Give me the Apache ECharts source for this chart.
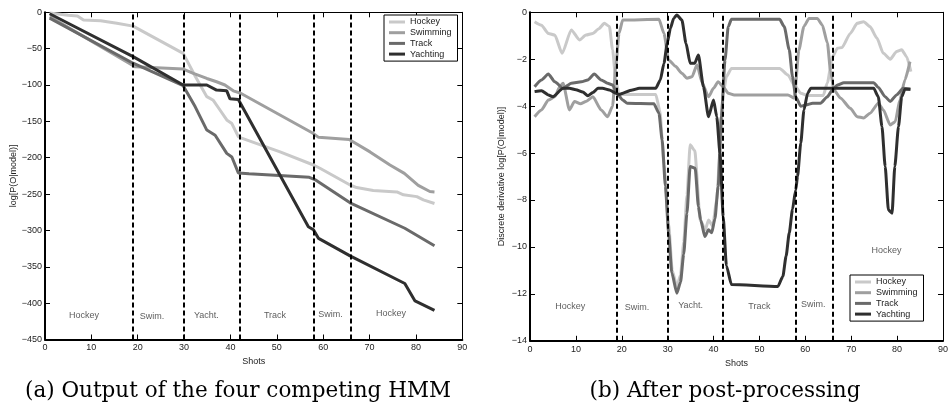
<!DOCTYPE html>
<html>
<head>
<meta charset="utf-8">
<script src="https://cdn.jsdelivr.net/npm/echarts@6/dist/echarts.min.js"></script>
<style>
  html, body { margin: 0; padding: 0; background: #fff; }
  #chart { width: 951px; height: 402px; }
</style>
</head>
<body>
<div id="chart"></div>
<script>
// (a) log-likelihood of the four HMMs
var hockeyAx = [1, 5, 7, 8.3, 12, 15.5, 19, 29.8, 32.4, 34.9, 36.3, 37.7, 39.2, 40.3, 41.7, 42.4, 50.7, 57.9, 59.3, 65.8, 67.2, 70.8, 75.9, 77.3, 80.2, 81.6, 84]
var hockeyAy = [-1, -4, -5, -10.5, -11.5, -15, -19, -56.5, -88, -116, -121, -134, -148, -153, -171, -173, -192, -210, -214.5, -237.5, -241, -245, -247, -251, -253.5, -258, -263]
var swimAx = [1, 19.5, 29.8, 32, 34.9, 37, 38.8, 40.6, 42.1, 57.7, 59, 65.6, 70.1, 74.4, 77.5, 80.5, 83, 84]
var swimAy = [-6, -75, -78, -84, -91, -95.5, -100, -108, -111, -166, -172, -175, -192, -210, -221.5, -238, -246.5, -247]
var trackAx = [1, 19, 29.8, 32.4, 34.9, 36.7, 39.2, 40.3, 41.7, 44, 57, 58.2, 65.8, 77.6, 84]
var trackAy = [-8, -70, -101, -130, -162, -169, -194, -199, -221, -222, -227, -230, -262, -297, -321]
var yachtAx = [1, 19, 29.8, 34.9, 37, 39.2, 39.9, 41.7, 42, 56.8, 57.9, 59, 65.8, 77.6, 79.8, 84]
var yachtAy = [-2, -61, -100, -100, -107, -108, -119, -120, -121, -295, -299, -311, -335, -373, -397, -410]

// (b) discrete derivative after post-processing
var hockeyBx = [1, 2.5, 4, 5.4, 7, 9, 10.8, 12.2, 13.7, 15, 16.2, 17.3, 18, 18.7, 19.4, 27.4, 28.3, 29.2, 30.2, 31, 32, 32.8, 33.5, 34.2, 34.9, 35.9, 37.1, 38.2, 38.9, 39.8, 40.7, 41.4, 42.1, 42.8, 43.9, 54.4, 56.2, 57.6, 59, 60.5, 63.9, 64.8, 65.9, 67, 68, 69.8, 71.3, 72.7, 74.1, 75.6, 77, 78.5, 79.9, 81, 82.1, 83]
var hockeyBy = [-0.4, -0.55, -0.9, -0.97, -1.75, -0.75, -1.18, -0.97, -0.9, -0.7, -0.47, -0.6, -1.6, -2.9, -3.5, -3.5, -4.2, -6.5, -9.0, -11.0, -11.7, -11.2, -9.8, -7.8, -5.65, -5.9, -8.85, -9.27, -8.85, -9.1, -8.0, -5.9, -3.5, -2.74, -2.39, -2.39, -2.67, -3.1, -3.45, -3.55, -3.55, -3.0, -1.9, -1.53, -1.5, -0.9, -0.47, -0.4, -0.61, -1.1, -1.75, -2.0, -1.67, -1.6, -1.9, -2.53]
var swimBx = [1, 2.5, 4, 5.4, 6.5, 7.2, 8.6, 9.7, 11, 12.2, 13.7, 15.5, 16.9, 18, 18.7, 19.4, 20.2, 28.1, 29.2, 30.2, 31.7, 33.1, 34.2, 35.3, 36.4, 37.5, 38.9, 40, 41, 42.1, 43.2, 44.5, 56.2, 57.6, 58.6, 59.7, 60.8, 62.6, 63.7, 64.8, 65.5, 66.2, 67.7, 69.8, 71.3, 72.7, 74.1, 75.9, 77, 78.5, 79.6, 80.6, 81.7, 82.8]
var swimBy = [-4.45, -4.16, -3.74, -3.6, -3.17, -3.02, -4.16, -3.8, -3.9, -3.8, -3.6, -4.16, -4.45, -4.0, -2.3, -0.9, -0.33, -0.3, -0.9, -2.03, -2.3, -2.6, -2.81, -2.75, -2.24, -3.0, -3.6, -3.24, -2.96, -3.17, -3.45, -3.52, -3.52, -3.66, -1.6, -0.6, -0.26, -0.26, -0.54, -1.3, -2.5, -3.3, -3.66, -4.09, -4.45, -4.5, -4.3, -3.88, -4.16, -4.8, -4.66, -3.74, -2.88, -2.1]
var trackBx = [1, 2.5, 4, 5.4, 7.2, 9, 11.2, 12.6, 14, 15.5, 16.9, 18, 19.1, 20.2, 21.2, 27, 28.1, 28.8, 29.5, 30.2, 30.9, 32, 32.8, 33.5, 34.2, 34.9, 36, 36.7, 37.2, 38.1, 38.9, 39.6, 40.3, 41, 41.7, 42.5, 43.2, 43.9, 54.4, 55.4, 56.5, 57.2, 57.9, 59, 60.1, 61.6, 63.3, 64.8, 65.9, 67, 68.4, 74.9, 75.9, 77.4, 78.5, 79.9, 81.3, 82.9]
var trackBy = [-3.17, -2.88, -2.63, -2.96, -3.24, -3.02, -2.96, -2.88, -2.63, -2.88, -3.02, -3.1, -3.5, -3.74, -3.88, -3.9, -4.3, -5.44, -7.4, -9.4, -11.1, -11.97, -11.5, -10.3, -8.56, -6.57, -6.65, -8.28, -8.85, -9.56, -9.27, -9.4, -8.8, -7.43, -4.45, -2.03, -0.61, -0.3, -0.3, -0.61, -1.6, -2.74, -3.6, -4.0, -3.95, -3.88, -3.88, -3.6, -3.31, -3.1, -3.0, -3.0, -3.2, -3.6, -3.8, -3.52, -3.24, -3.28]
var yachtBx = [1, 2.5, 4, 5, 7.2, 8.6, 10, 11.5, 12.6, 13.7, 14.8, 15.8, 17.3, 18.7, 19.4, 22.3, 23.8, 27.4, 28.4, 29.2, 29.9, 30.6, 31.3, 32, 33.1, 34, 34.9, 35.9, 36.7, 37.8, 38.9, 40, 40.7, 41.4, 42.1, 42.8, 43.9, 54, 55.1, 55.8, 56.5, 57.2, 57.9, 58.3, 59, 59.7, 60.5, 61.2, 74.9, 75.9, 76.7, 77.4, 78.1, 78.9, 79.5, 80.3, 81, 81.7, 82.9]
var yachtBy = [-3.38, -3.34, -3.52, -3.6, -3.24, -3.24, -3.3, -3.4, -3.56, -3.42, -3.24, -3.24, -3.31, -3.45, -3.5, -3.31, -3.24, -3.24, -2.88, -2.17, -1.32, -0.68, -0.26, -0.11, -0.33, -1.32, -2.17, -2.17, -1.82, -3.17, -4.45, -3.74, -4.45, -6.0, -8.7, -10.8, -11.6, -11.69, -11.26, -10.4, -9.4, -8.4, -7.57, -7.0, -5.58, -4.16, -3.45, -3.24, -3.24, -3.6, -4.87, -6.57, -8.42, -8.56, -6.57, -4.87, -3.6, -3.28, -3.28]

// ground-truth segments
var boundaries = [19, 30, 42, 58, 66]
var regionNames = ['Hockey', 'Swim.', 'Yacht.', 'Track', 'Swim.', 'Hockey']
var labelXa = [8.4, 23.1, 34.8, 49.6, 61.6, 74.6]
var labelYa = [-417, -419, -417, -417, -416, -414]
var labelXb = [8.75, 23.3, 35.0, 50.0, 61.7, 77.7]
var labelYb = [-12.54, -12.57, -12.5, -12.54, -12.47, -10.17]

var modelNames = ['Hockey', 'Swimming', 'Track', 'Yachting']
var modelColors = ['#c9c9c9', '#9f9f9f', '#6a6a6a', '#2f2f2f']

var chart = echarts.init(document.getElementById('chart'))
var sans = 'Liberation Sans, Arial, sans-serif'
var tickFont = { fontFamily: sans, fontSize: 9, color: '#222' }

function minus(v) {
  return String(v).replace('-', '\u2212')
}
function zip(xs, ys) {
  return xs.map(function(x, i) {
    return [x, ys[i]]
  })
}

function xAxes(grid) {
  var base = { type: 'value', gridIndex: grid, min: 0, max: 90, interval: 10, splitLine: { show: false } }
  return [
    Object.assign({}, base, {
      position: 'bottom',
      name: 'Shots',
      nameLocation: 'middle',
      nameGap: 18,
      nameTextStyle: tickFont,
      axisLine: { onZero: false, lineStyle: { color: '#000', width: 2 } },
      axisTick: { inside: true, length: 5, lineStyle: { color: '#000' } },
      axisLabel: Object.assign({ margin: 4 }, tickFont)
    }),
    Object.assign({}, base, {
      position: 'top',
      axisLine: { onZero: false, lineStyle: { color: '#000', width: 1 } },
      axisTick: { inside: true, length: 5, lineStyle: { color: '#000' } },
      axisLabel: { show: false }
    })
  ]
}

function yAxes(grid, min, interval, name, gap) {
  var base = { type: 'value', gridIndex: grid, min: min, max: 0, interval: interval, splitLine: { show: false } }
  return [
    Object.assign({}, base, {
      position: 'left',
      name: name,
      nameLocation: 'middle',
      nameGap: gap,
      nameTextStyle: tickFont,
      axisLine: { onZero: false, lineStyle: { color: '#000', width: 2 } },
      axisTick: { inside: true, length: 5, lineStyle: { color: '#000' } },
      axisLabel: Object.assign({ margin: 3, formatter: minus }, tickFont)
    }),
    Object.assign({}, base, {
      position: 'right',
      axisLine: { onZero: false, lineStyle: { color: '#000', width: 1 } },
      axisTick: { inside: true, length: 5, lineStyle: { color: '#000' } },
      axisLabel: { show: false }
    })
  ]
}

function lineSeries(name, idx, axis, xs, ys, smooth) {
  return {
    name: name,
    type: 'line',
    xAxisIndex: axis,
    yAxisIndex: axis,
    data: zip(xs, ys),
    showSymbol: false,
    symbol: 'none',
    smooth: smooth,
    smoothMonotone: 'x',
    silent: true,
    animation: false,
    itemStyle: { color: modelColors[idx] },
    lineStyle: { color: modelColors[idx], width: 3 }
  }
}

function regionSeries(axis, lx, ly) {
  return {
    name: 'regions' + axis,
    type: 'scatter',
    xAxisIndex: axis,
    yAxisIndex: axis,
    symbolSize: 1,
    silent: true,
    animation: false,
    itemStyle: { color: 'rgba(0,0,0,0)' },
    label: { show: true, position: 'inside', formatter: '{b}', fontFamily: sans, fontSize: 9, color: '#333' },
    data: regionNames.map(function(n, i) {
      return { name: n, value: [lx[i], ly[i]] }
    }),
    markLine: {
      silent: true,
      animation: false,
      symbol: ['none', 'none'],
      label: { show: false },
      lineStyle: { color: '#000', width: 2, type: [5, 3] },
      data: boundaries.map(function(b) {
        return { xAxis: b }
      })
    }
  }
}

function legend(left, top) {
  return {
    data: modelNames,
    left: left,
    top: top,
    orient: 'vertical',
    selectedMode: false,
    icon: 'rect',
    itemWidth: 16,
    itemHeight: 3,
    itemGap: 0.7,
    padding: [2, 6, 2, 5],
    borderColor: '#000',
    borderWidth: 1,
    backgroundColor: '#fff',
    textStyle: { fontFamily: sans, fontSize: 9, lineHeight: 10, color: '#222' }
  }
}

// captions under each panel
var captionStyle = { fontFamily: 'DejaVu Serif', fontSize: 21.5, fill: '#000', textAlign: 'center', textVerticalAlign: 'middle' }

var option = {
  animation: false,
  grid: [
    { left: 45, top: 12.3, width: 417.3, height: 327.2 },
    { left: 530, top: 12.3, width: 416.7, height: 328.5 }
  ],
  xAxis: xAxes(0).concat(xAxes(1)),
  yAxis: yAxes(0, -450, 50, 'log[P(O|model)]', 27).concat(yAxes(1, -14, 2, 'Discrete derivative log[P(O|model)]', 24)),
  legend: [legend(384, 15), legend(850, 275)],
  graphic: [
    { type: 'text', x: 238, y: 391, style: Object.assign({ text: '(a) Output of the four competing HMM' }, captionStyle) },
    { type: 'text', x: 725, y: 391, style: Object.assign({ text: '(b) After post-processing' }, captionStyle) }
  ],
  series: [
    lineSeries('Hockey', 0, 0, hockeyAx, hockeyAy, false),
    lineSeries('Swimming', 1, 0, swimAx, swimAy, false),
    lineSeries('Track', 2, 0, trackAx, trackAy, false),
    lineSeries('Yachting', 3, 0, yachtAx, yachtAy, false),
    regionSeries(0, labelXa, labelYa),
    lineSeries('Hockey', 0, 2, hockeyBx, hockeyBy, 0.2),
    lineSeries('Swimming', 1, 2, swimBx, swimBy, 0.2),
    lineSeries('Track', 2, 2, trackBx, trackBy, 0.2),
    lineSeries('Yachting', 3, 2, yachtBx, yachtBy, 0.2),
    regionSeries(2, labelXb, labelYb)
  ]
}
chart.setOption(option)
</script>
</body>
</html>
